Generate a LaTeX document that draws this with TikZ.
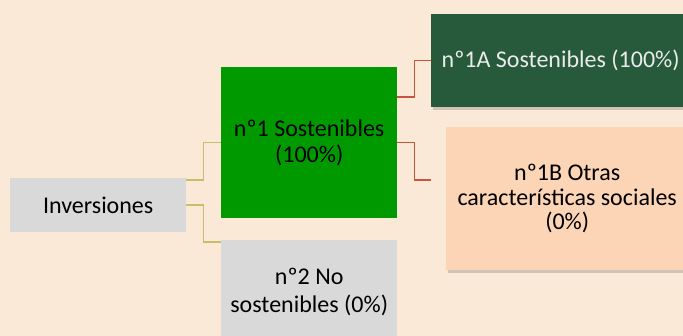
\documentclass[tikz,border=0pt]{standalone}
\usepackage{fontspec}
\setmainfont{Carlito}
\usetikzlibrary{shadows}
\definecolor{bgc}{HTML}{FBE9D8}
\definecolor{grayc}{HTML}{D9D9D9}
\definecolor{greenc}{HTML}{009900}
\definecolor{dgreenc}{HTML}{265A3A}
\definecolor{peachc}{HTML}{FBD5B5}
\definecolor{olivec}{HTML}{C9BD6B}
\definecolor{redc}{HTML}{C8553D}
\begin{document}
\begin{tikzpicture}[x=1pt,y=-1pt,
  box/.style={anchor=north west, inner sep=2pt, align=center, font=\fontsize{24}{28.5}\selectfont, text=black},
  shad/.style={drop shadow={opacity=0.35, shadow xshift=2pt, shadow yshift=-3pt}},
  oline/.style={draw=olivec, line width=1.5pt},
  rline/.style={draw=redc, line width=1.5pt}]
\path[use as bounding box, clip] (0,0) rectangle (683,336);
\fill[bgc] (0,0) rectangle (683,336);
\node[box, fill=grayc, minimum width=176pt, minimum height=54pt] (inv) at (10,178) {Inversiones};
\node[box, fill=greenc, minimum width=176pt, minimum height=151pt] (n1) at (221,67) {\raisebox{-3pt}{nº1 Sostenibles}\\(100\%)};
\node[box, fill=grayc, minimum width=176pt, minimum height=104pt] (n2) at (221,240) {nº2 No\\sostenibles (0\%)};
\node[box, shad, fill=dgreenc, text=white!92!black, minimum width=259pt, minimum height=93pt] (n1a) at (431,14) {nº1A Sostenibles (100\%)};
\node[box, shad, fill=peachc, minimum width=242pt, minimum height=143pt, font=\fontsize{24}{24.5}\selectfont] (n1b) at (446,127) {nº1B Otras\\características sociales\\(0\%)};
\coordinate (b1end) at (431,180);
\draw[oline] ([yshift=-2pt]inv.north east) -- ++(17,0) |- (n1.west);
\draw[oline] (inv.east) -- ++(17,0) |- ([yshift=-2pt]n2.north west);
\draw[rline] ([yshift=-30pt]n1.north east) -- ++(17,0) |- (n1a.west);
\draw[rline] (n1.east) -- ++(17,0) |- (b1end);
\end{tikzpicture}
\end{document}
